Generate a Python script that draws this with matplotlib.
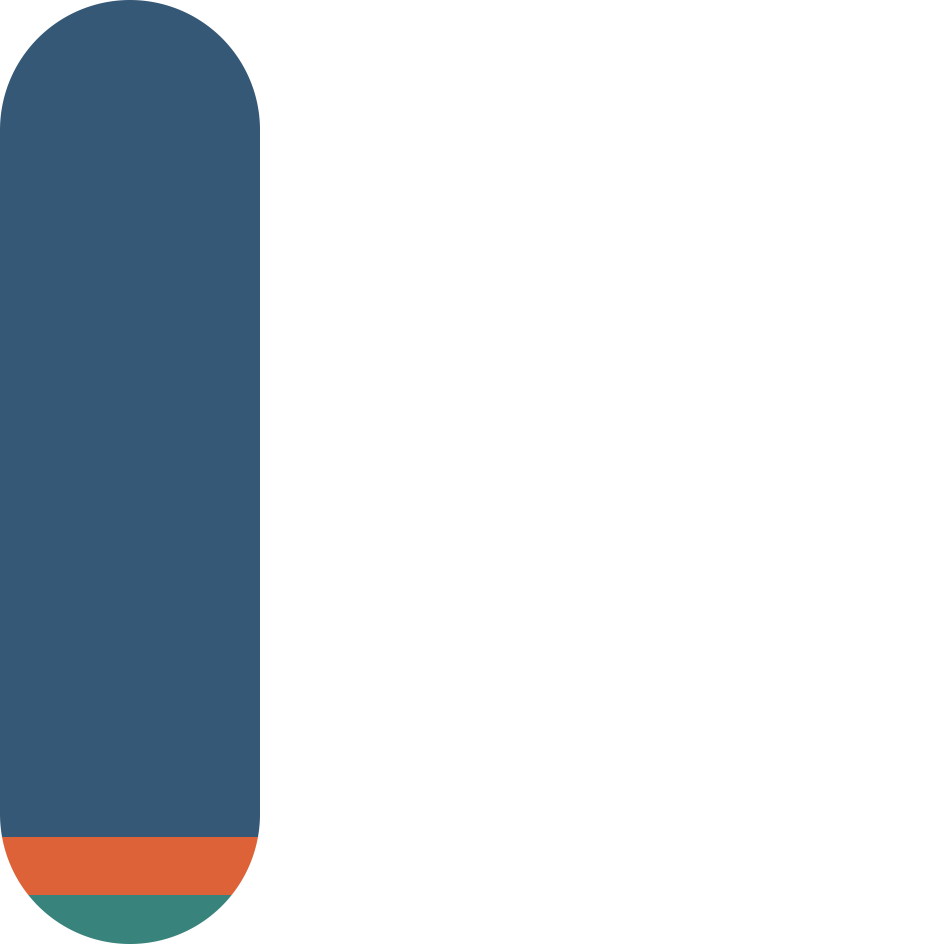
import matplotlib
matplotlib.use("Agg")
import matplotlib.pyplot as plt
import numpy as np
from matplotlib.patches import PathPatch
from matplotlib.path import Path

# Stacked shares, bottom to top
segments = ["Teal", "Orange", "Blue"]
shares = [5.2, 6.1, 88.7]
colors = ["#38837c", "#dd6237", "#365877"]

fig = plt.figure(figsize=(9.3, 9.44), dpi=100, facecolor="white")
ax = fig.add_axes([0, 0, 1, 1])
ax.set_axis_off()

# one bar, 260 px wide on a 930 px canvas
bar_w = 1.0
ax.set_xlim(-0.5, 930 / 260 - 0.5)
ax.set_ylim(0, sum(shares))

bottoms = np.concatenate([[0], np.cumsum(shares)[:-1]])
bars = ax.bar(0, shares, width=bar_w, bottom=bottoms, color=colors, linewidth=0)

# pill shaped clip with true semicircle ends, in inches
r = 1.3
h = 9.44
t = np.linspace(0, np.pi, 200)
top = np.column_stack([r + r * np.cos(t), h - r + r * np.sin(t)])
bot = np.column_stack([r + r * np.cos(t + np.pi), r + r * np.sin(t + np.pi)])
verts = np.vstack([top, bot, top[:1]])
codes = [Path.MOVETO] + [Path.LINETO] * (len(verts) - 2) + [Path.CLOSEPOLY]
pill = PathPatch(Path(verts, codes), transform=fig.dpi_scale_trans,
                 facecolor="none", edgecolor="none")
fig.add_artist(pill)
for b in bars:
    b.set_clip_path(pill)

fig.savefig("out.png", dpi=100, facecolor="white")
